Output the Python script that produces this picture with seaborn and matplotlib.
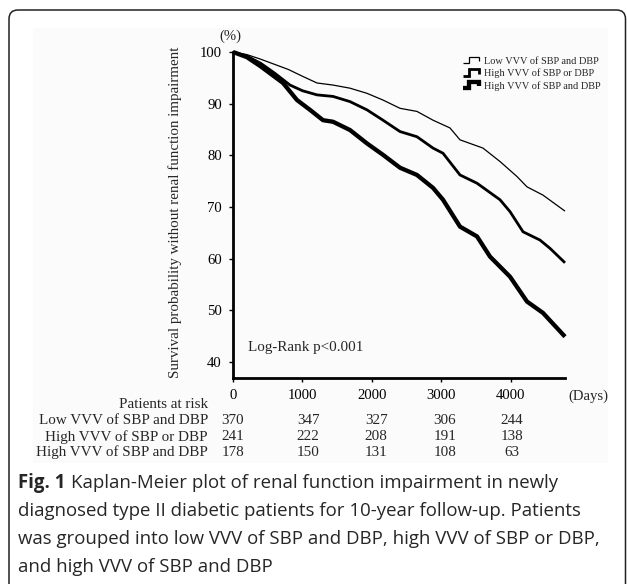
import numpy as np
import pandas as pd
import matplotlib
matplotlib.use("Agg")
import matplotlib.pyplot as plt
import seaborn as sns
from matplotlib.patches import FancyBboxPatch, Rectangle
from matplotlib.lines import Line2D
from matplotlib.legend_handler import HandlerBase
from matplotlib.text import Annotation
from matplotlib.transforms import blended_transform_factory

# ---------------- data ----------------
groups = ["Low VVV of SBP and DBP", "High VVV of SBP or DBP", "High VVV of SBP and DBP"]

low_days = [0, 200, 400, 600, 800, 1000, 1209, 1439, 1683, 1928, 2158, 2403, 2647,
            2878, 3122, 3266, 3597, 3842, 4086, 4230, 4460, 4777]
low_surv = [100, 99.5, 98.6, 97.6, 96.6, 95.3, 94.0, 93.6, 93.0, 92.0, 90.7, 89.1, 88.5,
            86.8, 85.3, 83.0, 81.4, 78.8, 75.9, 73.9, 72.3, 69.2]

mid_days = [0, 200, 400, 600, 820, 1000, 1209, 1439, 1683, 1928, 2158, 2403, 2647,
            2878, 3022, 3266, 3511, 3842, 3986, 4173, 4417, 4561, 4777]
mid_surv = [100, 99.2, 97.8, 95.9, 93.6, 92.5, 91.7, 91.4, 90.4, 88.8, 86.8, 84.6, 83.6,
            81.4, 80.4, 76.2, 74.6, 71.4, 69.1, 65.2, 63.6, 62.0, 59.2]

high_days = [0, 200, 400, 600, 720, 921, 1108, 1295, 1439, 1683, 1928, 2158, 2403, 2647,
             2878, 3022, 3266, 3511, 3698, 3986, 4230, 4460, 4777]
high_surv = [100, 99.0, 97.2, 95.2, 94.0, 90.7, 88.8, 86.8, 86.5, 84.9, 82.3, 80.1, 77.6, 76.2,
             73.7, 71.4, 66.2, 64.3, 60.4, 56.5, 51.7, 49.5, 44.9]

x_ticks = [0, 1000, 2000, 3000, 4000]
y_ticks = [40, 50, 60, 70, 80, 90, 100]

risk_low = [370, 347, 327, 306, 244]
risk_mid = [241, 222, 208, 191, 138]
risk_high = [178, 150, 131, 108, 63]

caption_bold = "Fig. 1"
caption_lines = [
    "Kaplan-Meier plot of renal function impairment in newly",
    "diagnosed type II diabetic patients for 10-year follow-up. Patients",
    "was grouped into low VVV of SBP and DBP, high VVV of SBP or DBP,",
    "and high VVV of SBP and DBP",
]

# ---------------- style ----------------
sns.set_style("ticks")
plt.rcParams["font.family"] = ["Liberation Serif", "DejaVu Serif"]

W, H = 627, 584
fig = plt.figure(figsize=(W / 100, H / 100), dpi=100)

# faint background of the embedded chart image
fig.add_artist(Rectangle((33 / W, 1 - 463 / H), (608 - 33) / W, (463 - 28) / H,
                         transform=fig.transFigure, facecolor="#fbfbfb",
                         edgecolor="none", zorder=-5))

ax = fig.add_axes([233 / W, 1 - 378 / H, (565 - 233) / W, (378 - 52) / H])

frames = []
for g, d, s in [(groups[0], low_days, low_surv),
                (groups[1], mid_days, mid_surv),
                (groups[2], high_days, high_surv)]:
    frames.append(pd.DataFrame({"group": g, "days": d, "surv": s}))
df = pd.concat(frames, ignore_index=True)

widths = {groups[0]: 0.9, groups[1]: 2.0, groups[2]: 3.1}
for g in groups:
    sub = df[df["group"] == g]
    sns.lineplot(data=sub, x="days", y="surv", color="black", linewidth=widths[g],
                 ax=ax, estimator=None, sort=False, clip_on=False,
                 solid_joinstyle="round", solid_capstyle="butt")

ax.set_xlim(0, 4777)
ax.set_ylim(36.9, 100)
ax.set_xticks(x_ticks)
ax.set_yticks(y_ticks)
ax.set_xlabel("")
ax.set_ylabel("Survival probability without renal function impairment", fontsize=10.8)
ax.yaxis.set_label_coords(-(233 - 182) / (565 - 233), (378 - 212) / (378 - 52))
for sp in ["top", "right"]:
    ax.spines[sp].set_visible(False)
for sp in ["left", "bottom"]:
    ax.spines[sp].set_linewidth(2.0)
    ax.spines[sp].set_color("black")
ax.tick_params(axis="both", direction="out", length=3, width=1, colors="black",
               labelsize=10.6)
ax.tick_params(axis="y", pad=5)
ax.tick_params(axis="x", pad=5)
ax.set_facecolor("none")

ax.text((248 - 233) / (565 - 233), (378 - 347) / (378 - 52), "Log-Rank p<0.001",
        transform=ax.transAxes, fontsize=10.9, ha="left", va="center")

fig.text(230 / W, 1 - 36 / H, "(%)", fontsize=10.6, ha="center", va="center")
fig.text(568 / W, 1 - 396 / H, "(Days)", fontsize=10.6, ha="left", va="center")


# legend with KM step-shaped handles
class StepHandler(HandlerBase):
    def create_artists(self, legend, orig_handle, xdescent, ydescent, width, height,
                       fontsize, trans):
        xs = np.array([0.0, 0.38, 0.38, 0.95, 0.95]) * width - xdescent
        ys = np.array([0.1, 0.1, 0.9, 0.9, 0.35]) * height - ydescent
        ln = Line2D(xs, ys, color="black", lw=orig_handle.get_linewidth(),
                    solid_joinstyle="miter", solid_capstyle="butt")
        ln.set_transform(trans)
        return [ln]


handles = [Line2D([], [], color="black", lw=widths[g]) for g in groups]
fig.legend(handles, groups, loc="upper left", bbox_to_anchor=(463 / W, 1 - 56 / H),
           frameon=False, fontsize=7.4, handlelength=1.6, handleheight=0.8,
           handletextpad=0.45, labelspacing=0.28, borderpad=0, borderaxespad=0,
           handler_map={Line2D: StepHandler()})

# patients at risk table
fig.text(208 / W, 1 - 404 / H, "Patients at risk", fontsize=10.9, ha="right", va="center")
row_y = [421, 437, 452]
col_shift = [0, 80, 60, 50, 15]
trans = blended_transform_factory(ax.transData, fig.transFigure)
for name, vals, yy in zip(groups, [risk_low, risk_mid, risk_high], row_y):
    fig.text(208 / W, 1 - yy / H, name, fontsize=10.9, ha="right", va="center")
    for xt, sh, v in zip(x_ticks, col_shift, vals):
        ax.text(xt + sh, 1 - yy / H, str(v), transform=trans, fontsize=10.9,
                ha="center", va="center", clip_on=False)

# caption
cap_font = ["Open Sans", "DejaVu Sans"]
cap_size = 13.4
cap_y = [483, 511, 539, 567]
t0 = fig.text(18 / W, 1 - cap_y[0] / H, caption_bold, fontsize=cap_size, family=cap_font,
              fontweight="bold", ha="left", va="center")
ann = Annotation(caption_lines[0], xy=(1, 0.5), xycoords=t0, xytext=(4, 0),
                 textcoords="offset points", fontsize=cap_size, family=cap_font,
                 ha="left", va="center")
fig.add_artist(ann)
for line, yy in zip(caption_lines[1:], cap_y[1:]):
    fig.text(18 / W, 1 - yy / H, line, fontsize=cap_size, family=cap_font,
             ha="left", va="center")

# rounded frame
frame = FancyBboxPatch((0.09, -0.5), 6.165, 5.74 + 0.5,
                       boxstyle="round,pad=0,rounding_size=0.09",
                       transform=fig.dpi_scale_trans, facecolor="none",
                       edgecolor="#222222", linewidth=1.1)
fig.add_artist(frame)

fig.savefig("out.png", dpi=100)
